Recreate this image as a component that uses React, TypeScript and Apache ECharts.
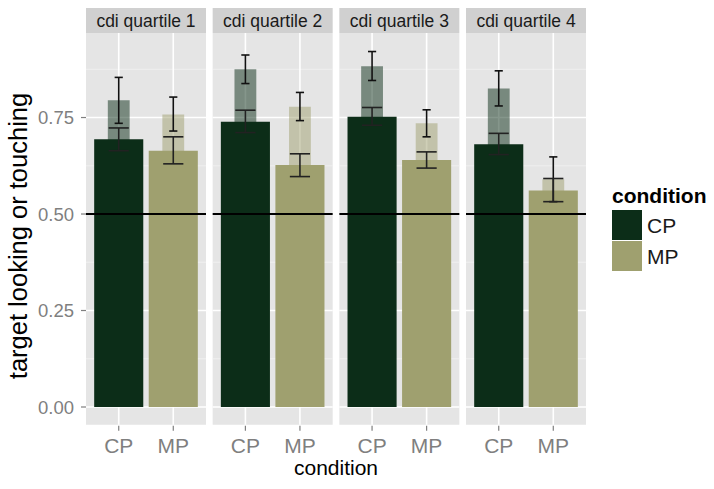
import React, { useEffect, useRef } from 'react';
import * as echarts from 'echarts';

const quartiles = ['cdi quartile 1', 'cdi quartile 2', 'cdi quartile 3', 'cdi quartile 4'];
const conditions = ['CP', 'MP'];
const conditionPos = [1, 2];

// solid (wide) bars
const solidMeanCP = [0.694, 0.739, 0.752, 0.681];
const solidLowCP = [0.664, 0.711, 0.730, 0.654];
const solidHighCP = [0.723, 0.769, 0.776, 0.709];
const solidMeanMP = [0.664, 0.627, 0.640, 0.561];
const solidLowMP = [0.630, 0.597, 0.619, 0.532];
const solidHighMP = [0.700, 0.656, 0.661, 0.592];

// translucent (narrow) bars
const lightMeanCP = [0.795, 0.875, 0.883, 0.825];
const lightLowCP = [0.735, 0.838, 0.846, 0.780];
const lightHighCP = [0.854, 0.912, 0.921, 0.871];
const lightMeanMP = [0.758, 0.778, 0.735, 0.590];
const lightLowMP = [0.715, 0.742, 0.700, 0.532];
const lightHighMP = [0.803, 0.815, 0.770, 0.648];

const yTicks = [0, 0.25, 0.5, 0.75];
const yMinor = [0.125, 0.375, 0.625, 0.875];
const refLine = 0.5;

const COLORS = ['#0c2d18', '#9fa06f'];
const FONT = 'Liberation Sans, Arial, Helvetica, sans-serif';

const PANEL_LEFT = 86;
const PANEL_W = 120;
const PANEL_GAP = 6.67;
const GRID_TOP = 33;
const ZERO_Y = 407;
const Y_MAX = 0.969;
const Y_MIN_EXP = -0.046;
const X_MIN = 0.4;
const X_MAX = 2.6;
const STRIP_H = 25;

export default function App() {
  const ref = useRef<HTMLDivElement>(null);
  useEffect(() => {
    if (!ref.current) return;
    const chart = echarts.init(ref.current, null, { renderer: 'svg' });
    const grids: any[] = [];
    const xAxes: any[] = [];
    const yAxes: any[] = [];
    const series: any[] = [];

    quartiles.forEach((q, i) => {
      grids.push({
        left: PANEL_LEFT + i * (PANEL_W + PANEL_GAP),
        width: PANEL_W,
        top: GRID_TOP,
        bottom: 489 - ZERO_Y,
      });
      xAxes.push({
        type: 'value',
        gridIndex: i,
        min: X_MIN,
        max: X_MAX,
        interval: 0.2,
        offset: 18,
        axisLine: { show: false },
        axisTick: { show: false },
        splitLine: { show: false },
        axisLabel: {
          show: true,
          margin: 10,
          color: '#7f7f7f',
          fontSize: 21,
          fontFamily: FONT,
          showMinLabel: true,
          showMaxLabel: true,
          formatter: (v: number) => {
            const k = conditionPos.findIndex((p) => Math.abs(p - v) < 1e-6);
            return k >= 0 ? conditions[k] : '';
          },
        },
      });
      yAxes.push({
        type: 'value',
        gridIndex: i,
        min: 0,
        max: Y_MAX,
        interval: 0.25,
        axisLine: { show: false },
        axisTick: { show: false },
        splitLine: { show: false },
        axisLabel: {
          show: i === 0,
          showMaxLabel: false,
          margin: 12,
          color: '#7f7f7f',
          fontSize: 18.5,
          fontFamily: FONT,
          formatter: (v: number) => v.toFixed(2),
        },
      });

      // background, grid lines, ticks, strip
      series.push({
        type: 'custom',
        xAxisIndex: i,
        yAxisIndex: i,
        clip: false,
        silent: true,
        z: 1,
        data: [[0]],
        renderItem: (params: any, api: any) => {
          const tl = api.coord([X_MIN, Y_MAX]);
          const br = api.coord([X_MAX, Y_MIN_EXP]);
          const children: any[] = [
            {
              type: 'rect',
              shape: { x: tl[0], y: tl[1], width: br[0] - tl[0], height: br[1] - tl[1] },
              style: { fill: '#e5e5e5' },
            },
          ];
          yMinor.forEach((v) => {
            const p = api.coord([X_MIN, v]);
            children.push({
              type: 'line',
              shape: { x1: tl[0], y1: p[1], x2: br[0], y2: p[1] },
              style: { stroke: '#f2f2f2', lineWidth: 0.8 },
            });
          });
          yTicks.forEach((v) => {
            const p = api.coord([X_MIN, v]);
            children.push({
              type: 'line',
              shape: { x1: tl[0], y1: p[1], x2: br[0], y2: p[1] },
              style: { stroke: '#ffffff', lineWidth: 1.6 },
            });
            if (i === 0) {
              children.push({
                type: 'line',
                shape: { x1: tl[0] - 5, y1: p[1], x2: tl[0], y2: p[1] },
                style: { stroke: '#7f7f7f', lineWidth: 1.2 },
              });
            }
          });
          conditionPos.forEach((x) => {
            const p = api.coord([x, 0]);
            children.push({
              type: 'line',
              shape: { x1: p[0], y1: tl[1], x2: p[0], y2: br[1] },
              style: { stroke: '#ffffff', lineWidth: 1.6 },
            });
            children.push({
              type: 'line',
              shape: { x1: p[0], y1: br[1] + 1, x2: p[0], y2: br[1] + 6 },
              style: { stroke: '#7f7f7f', lineWidth: 1.2 },
            });
          });
          children.push({
            type: 'rect',
            shape: { x: tl[0], y: tl[1] - STRIP_H, width: br[0] - tl[0], height: STRIP_H },
            style: { fill: '#d0d0d0' },
          });
          children.push({
            type: 'text',
            style: {
              text: q,
              x: (tl[0] + br[0]) / 2,
              y: tl[1] - STRIP_H / 2,
              align: 'center',
              verticalAlign: 'middle',
              fontSize: 17.5,
              fontFamily: FONT,
              fill: '#1a1a1a',
            },
          });
          return { type: 'group', children };
        },
      });

      const lightData = [
        [conditionPos[0], lightMeanCP[i], lightLowCP[i], lightHighCP[i]],
        [conditionPos[1], lightMeanMP[i], lightLowMP[i], lightHighMP[i]],
      ];
      const solidData = [
        [conditionPos[0], solidMeanCP[i], solidLowCP[i], solidHighCP[i]],
        [conditionPos[1], solidMeanMP[i], solidLowMP[i], solidHighMP[i]],
      ];

      const barRender = (w: number, opacity: number) => (params: any, api: any) => {
        const x = api.value(0);
        const v = api.value(1);
        const a = api.coord([x - w / 2, v]);
        const b = api.coord([x + w / 2, 0]);
        return {
          type: 'rect',
          shape: { x: a[0], y: a[1], width: b[0] - a[0], height: b[1] - a[1] },
          style: { fill: COLORS[params.dataIndex], opacity },
        };
      };
      const errRender = (w: number, color: string) => (params: any, api: any) => {
        const x = api.value(0);
        const lo = api.coord([x, api.value(2)]);
        const hi = api.coord([x, api.value(3)]);
        const l = api.coord([x - w / 2, api.value(2)])[0];
        const r = api.coord([x + w / 2, api.value(2)])[0];
        const st = { stroke: color, lineWidth: 1.6 };
        return {
          type: 'group',
          children: [
            { type: 'line', shape: { x1: lo[0], y1: lo[1], x2: hi[0], y2: hi[1] }, style: st },
            { type: 'line', shape: { x1: l, y1: lo[1], x2: r, y2: lo[1] }, style: st },
            { type: 'line', shape: { x1: l, y1: hi[1], x2: r, y2: hi[1] }, style: st },
          ],
        };
      };

      series.push({
        type: 'custom', xAxisIndex: i, yAxisIndex: i, z: 2, silent: true,
        data: lightData, renderItem: barRender(0.4, 0.5),
      });
      series.push({
        type: 'custom', xAxisIndex: i, yAxisIndex: i, z: 3, silent: true,
        data: solidData, renderItem: barRender(0.9, 1),
      });
      series.push({
        type: 'custom', xAxisIndex: i, yAxisIndex: i, z: 4, silent: true,
        data: lightData, renderItem: errRender(0.15, '#111111'),
      });
      series.push({
        type: 'custom', xAxisIndex: i, yAxisIndex: i, z: 4, silent: true,
        data: solidData, renderItem: errRender(0.37, '#222222'),
      });
      series.push({
        type: 'custom', xAxisIndex: i, yAxisIndex: i, z: 5, silent: true, clip: false,
        data: [[refLine]],
        renderItem: (params: any, api: any) => {
          const a = api.coord([X_MIN, api.value(0)]);
          const b = api.coord([X_MAX, api.value(0)]);
          return {
            type: 'line',
            shape: { x1: a[0], y1: a[1], x2: b[0], y2: b[1] },
            style: { stroke: '#000000', lineWidth: 2 },
          };
        },
      });
    });

    // legend proxies
    conditions.forEach((c, k) => {
      series.push({ type: 'bar', name: c, xAxisIndex: 0, yAxisIndex: 0, data: [], itemStyle: { color: COLORS[k] } });
    });

    chart.setOption({
      animation: false,
      backgroundColor: '#ffffff',
      grid: grids,
      xAxis: xAxes,
      yAxis: yAxes,
      series,
      legend: {
        orient: 'vertical',
        left: 612,
        top: 210,
        padding: 0,
        itemWidth: 30,
        itemHeight: 30,
        itemGap: 1,
        icon: 'rect',
        data: conditions,
        textStyle: { fontSize: 21, color: '#1a1a1a', fontFamily: FONT },
      },
      graphic: [
        {
          type: 'text',
          left: 612,
          top: 185,
          style: { text: 'condition', fontSize: 21, fontWeight: 'bold', fill: '#000000', fontFamily: FONT },
        },
        {
          type: 'text',
          x: 336,
          y: 467,
          style: { text: 'condition', fontSize: 21, fill: '#000000', fontFamily: FONT, align: 'center', verticalAlign: 'middle' },
        },
        {
          type: 'text',
          x: 18,
          y: 236,
          rotation: Math.PI / 2,
          style: { text: 'target looking or touching', fontSize: 25.5, fill: '#000000', fontFamily: FONT, align: 'center', verticalAlign: 'middle' },
        },
      ],
    });
    return () => chart.dispose();
  }, []);
  return <div ref={ref} style={{ position: 'fixed', left: 0, top: 0, width: 714, height: 489 }} />;
}
